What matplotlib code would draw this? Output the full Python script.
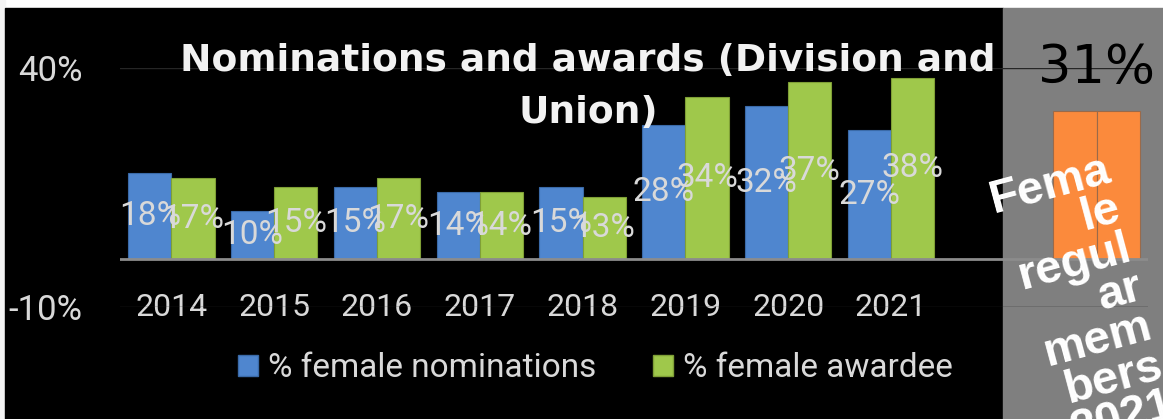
import numpy as np
import matplotlib
matplotlib.use("Agg")
import matplotlib.pyplot as plt
from matplotlib.patches import Rectangle, Patch

# ── Data ────────────────────────────────────────────────────────────────
years = ["2014", "2015", "2016", "2017", "2018", "2019", "2020", "2021"]
nominations = [18, 10, 15, 14, 15, 28, 32, 27]
awardees = [17, 15, 17, 14, 13, 34, 37, 38]
female_members_2021 = 31
members_label = "Fema\nle\nregul\nar\nmem\nbers\n2021"

W, H = 1163, 419
fig = plt.figure(figsize=(W / 100, H / 100), dpi=100, facecolor="white")

# background panels (black chart area + grey side panel)
fig.patches.append(Rectangle((0, 0), 5 / W, 1, transform=fig.transFigure,
                             color="#f4f4f4", zorder=-3))
fig.patches.append(Rectangle((5 / W, 0), (1003 - 5) / W, (H - 8) / H,
                             transform=fig.transFigure, color="black", zorder=-2))
fig.patches.append(Rectangle((1003 / W, 0), (W - 1003) / W, (H - 8) / H,
                             transform=fig.transFigure, color="#7f7f7f", zorder=-2))

ax = fig.add_axes([120 / W, (H - 307) / H, 1028 / W, 239 / H])
ax.set_facecolor("none")
for s in ax.spines.values():
    s.set_visible(False)

x = np.arange(len(years))
bw = 0.42
ax.bar(x - bw / 2, nominations, bw, color="#4f86cf", edgecolor="#3a6aa8", lw=0.8, zorder=3)
ax.bar(x + bw / 2, awardees, bw, color="#9fc84b", edgecolor="#7f9f36", lw=0.8, zorder=3)

# 2021 members bar (two halves at an extra slot)
xm = len(years) + 1
ax.bar([xm - bw / 2, xm + bw / 2], [female_members_2021] * 2, bw,
       color="#fb8a3c", edgecolor="#9a6a4a", lw=0.8, zorder=3)

lab_font = dict(family="Roboto", fontsize=24, color="#d9d9d9", zorder=5)
for xi, v in zip(x, nominations):
    ax.text(xi - bw / 2, v / 2, f"{v}%", ha="center", va="center", **lab_font)
for xi, v in zip(x, awardees):
    ax.text(xi + bw / 2, v / 2, f"{v}%", ha="center", va="center", **lab_font)

ax.text(xm, 40, f"{female_members_2021}%", ha="center", va="center",
        family="DejaVu Sans", fontsize=38, color="black", zorder=5)

ax.axhline(0, color="#8c8c8c", lw=2, zorder=4)
ax.set_xlim(-0.5, len(years) + 1.5)
ax.set_ylim(-10, 40)
ax.set_yticks([-10, 40])
ax.set_yticklabels(["-10%", "40%"], family="Roboto", fontsize=25, color="#d9d9d9")
ax.grid(axis="y", color="#262626", lw=1, zorder=0)
ax.set_xticks(x)
ax.set_xticklabels(years, family="Roboto", fontsize=23, color="#d9d9d9")
for lbl in ax.get_xticklabels():
    lbl.set_va("center")
ax.tick_params(axis="both", length=0)
ax.tick_params(axis="x", pad=0)
ax.tick_params(axis="y", pad=27)

fig.text(588 / W, 1 - 87 / H, "Nominations and awards (Division and\nUnion)",
         ha="center", va="center", fontsize=27, fontweight="bold",
         color="#f2f2f2", family="DejaVu Sans", linespacing=1.55)

fig.text(1104 / W, 1 - 148 / H, members_label, ha="right", va="top",
         rotation=15, rotation_mode="anchor", fontsize=34, fontweight="bold",
         color="white", family="Liberation Sans", linespacing=0.9)

handles = [Patch(facecolor="#4f86cf", edgecolor="#3a6aa8"),
           Patch(facecolor="#9fc84b", edgecolor="#7f9f36")]
leg = fig.legend(handles, ["% female nominations", "% female awardee"],
                 loc="center", bbox_to_anchor=(595 / W, 1 - 368 / H), ncol=2,
                 frameon=False, handlelength=0.6, handleheight=0.6,
                 handletextpad=0.3, columnspacing=1.7,
                 prop=dict(family="Roboto", size=24))
for t in leg.get_texts():
    t.set_color("#d9d9d9")

fig.savefig("out.png", dpi=100, facecolor="white")
